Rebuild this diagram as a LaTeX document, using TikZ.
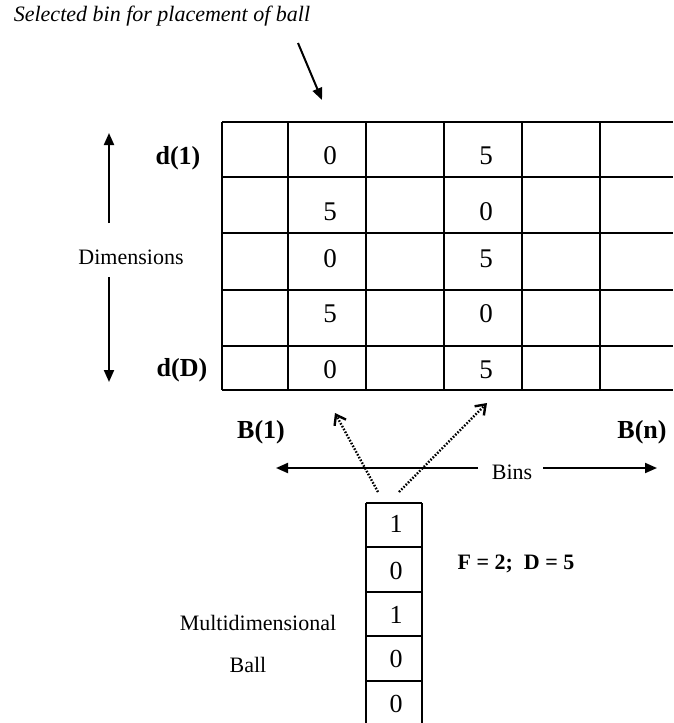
\documentclass[tikz,border=0pt]{standalone}
\usepackage{fontspec}
\setmainfont{Liberation Serif}
\usetikzlibrary{arrows.meta}
\begin{document}
\begin{tikzpicture}[x=1pt,y=-1pt,
  gridline/.style={line width=1.8pt},
  ballline/.style={line width=1.3pt},
  num/.style={font=\fontsize{27}{30}\selectfont, inner sep=0pt},
  bnum/.style={font=\fontsize{26}{30}\selectfont, inner sep=0pt},
  lab/.style={font=\fontsize{26}{30}\selectfont\bfseries, inner sep=0pt},
  plain/.style={font=\fontsize{22}{26}\selectfont, inner sep=0pt},
  solidarrow/.style={line width=2pt, -{Triangle[length=12pt,width=10pt]}},
  dotarrow/.style={line width=2.4pt, dash pattern=on 1.6pt off 1.6pt, -{Straight Barb[length=9pt,width=13pt,line width=2.4pt]}}
]
\useasboundingbox (0,0) rectangle (673,723);
% grid
\foreach \y in {122,177,233,290,346,390} \draw[gridline] (222,\y) -- (673,\y);
\foreach \x in {222,288,366,444,522,600} \draw[gridline] (\x,122) -- (\x,390);
% grid values
\node[num] (a1) at (330,156) {0};
\node[num] (a2) at (330,212) {5};
\node[num] (a3) at (330,259) {0};
\node[num] (a4) at (330,314) {5};
\node[num] (a5) at (330,370) {0};
\node[num] (b1) at (486,156) {5};
\node[num] (b2) at (486,212) {0};
\node[num] (b3) at (486,259) {5};
\node[num] (b4) at (486,314) {0};
\node[num] (b5) at (486,370) {5};
% labels
\node[font=\fontsize{22}{26}\selectfont\itshape, inner sep=0pt] (sel) at (162,16) {Selected bin for placement of ball};
\coordinate (selS) at (298,43);
\coordinate (selE) at (322,100);
\draw[solidarrow] (selS) -- (selE);
\node[lab] (d1) at (178,158) {d(1)};
\node[lab] (dD) at (182,370) {d(D)};
\node[plain] (dim) at (131,257) {Dimensions};
\coordinate (dimUp) at (109,133);
\coordinate (dimDown) at (109,382);
\draw[solidarrow] (109,223) -- (dimUp);
\draw[solidarrow] (109,277) -- (dimDown);
\node[lab] (B1) at (261,432) {B(1)};
\node[lab] (Bn) at (642,432) {B(n)};
\node[plain] (bins) at (512,472) {Bins};
\coordinate (binsL) at (276,468);
\coordinate (binsR) at (657,468);
\draw[solidarrow] (478,468) -- (binsL);
\draw[solidarrow] (543,468) -- (binsR);
% dotted arrows
\coordinate (dl0) at (378,492);
\coordinate (dl1) at (335,413);
\coordinate (dr0) at (399,492);
\coordinate (dr1) at (487,403);
\draw[dotarrow] (dl0) -- (dl1);
\draw[dotarrow] (dr0) -- (dr1);
% ball
\foreach \y in {503,547,592,636,681} \draw[ballline] (366,\y) -- (422,\y);
\draw[ballline] (366,503) -- (366,730);
\draw[ballline] (422,503) -- (422,730);
\node[bnum] (c1) at (396,524) {1};
\node[bnum] (c2) at (396,571) {0};
\node[bnum] (c3) at (396,615) {1};
\node[bnum] (c4) at (396,659) {0};
\node[bnum] (c5) at (396,704) {0};
\node[font=\fontsize{22}{26}\selectfont\bfseries, inner sep=0pt] (fd) at (516,564) {F = 2;\ \ D = 5};
\node[plain] (multi) at (258,623) {Multidimensional};
\node[plain] (ball) at (248,665) {Ball};
\end{tikzpicture}
\end{document}
